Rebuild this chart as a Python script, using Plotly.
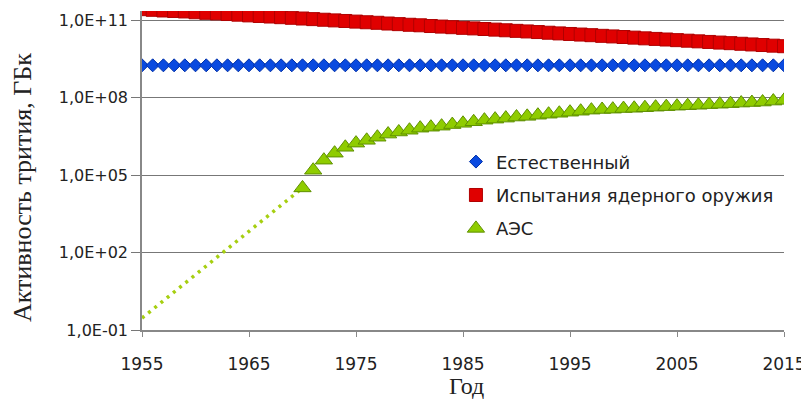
import plotly.graph_objects as go

years = list(range(1955, 2016))
aes_years = list(range(1970, 2016))
trend_years = [1955, 1970]

natural = [1.8e9] * len(years)

weapons = [2.7e11, 2.55e11, 2.4e11, 2.3e11, 2.2e11, 2.05e11, 1.95e11, 1.85e11, 1.75e11, 1.65e11,
           1.55e11, 1.47e11, 1.4e11, 1.32e11, 1.25e11, 1.17e11, 1.11e11, 1.05e11, 9.9e10, 9.4e10,
           8.9e10, 8.4e10, 8.0e10, 7.5e10, 7.1e10, 6.7e10, 6.4e10, 6.0e10, 5.7e10, 5.4e10,
           5.1e10, 4.85e10, 4.6e10, 4.35e10, 4.1e10, 3.9e10, 3.7e10, 3.5e10, 3.3e10, 3.1e10,
           2.95e10, 2.8e10, 2.65e10, 2.5e10, 2.37e10, 2.25e10, 2.13e10, 2.0e10, 1.9e10, 1.8e10,
           1.7e10, 1.62e10, 1.53e10, 1.45e10, 1.37e10, 1.3e10, 1.23e10, 1.16e10, 1.1e10, 1.04e10,
           9.9e9]

aes = [3.2e4, 1.55e5, 3.8e5, 7.1e5, 1.2e6, 1.74e6, 2.24e6, 2.95e6, 3.9e6, 4.7e6,
       5.5e6, 6.6e6, 7.2e6, 7.9e6, 9.1e6, 1.02e7, 1.17e7, 1.35e7, 1.48e7, 1.62e7,
       1.78e7, 1.9e7, 2.1e7, 2.3e7, 2.5e7, 2.75e7, 3.0e7, 3.3e7, 3.5e7, 3.6e7,
       3.8e7, 3.9e7, 4.1e7, 4.3e7, 4.5e7, 4.7e7, 4.9e7, 5.1e7, 5.4e7, 5.6e7,
       5.9e7, 6.2e7, 6.5e7, 6.8e7, 7.4e7, 7.9e7]

aes_trend = [0.29, 3.2e4]

y_tickvals = [1e-1, 1e2, 1e5, 1e8, 1e11]
y_ticktext = ["1,0E-01", "1,0E+02", "1,0E+05", "1,0E+08", "1,0E+11"]
x_tickvals = [1955, 1965, 1975, 1985, 1995, 2005, 2015]

names = ["Естественный", "Испытания ядерного оружия", "АЭС"]
y_title = "Активность трития, ГБк"
x_title = "Год"

fig = go.Figure()

fig.add_trace(go.Scatter(
    x=years, y=natural, mode="markers", name=names[0], legendgroup="a",
    marker=dict(symbol="diamond", size=10, color="#0a4ae0",
                line=dict(color="#0030a8", width=1))))

fig.add_trace(go.Scatter(
    x=years, y=weapons, mode="markers", name=names[1], legendgroup="b",
    marker=dict(symbol="square", size=13, color="#e00000",
                line=dict(color="#b00000", width=1))))

fig.add_trace(go.Scatter(
    x=trend_years, y=aes_trend, mode="lines", showlegend=False, legendgroup="c",
    line=dict(color="#a6cf10", width=3.5, dash="3px,5px"), hoverinfo="skip"))

fig.add_trace(go.Scatter(
    x=aes_years, y=aes, mode="markers", name=names[2], legendgroup="c",
    marker=dict(symbol="triangle-up", size=15, color="#8fcc00",
                line=dict(color="#5f9000", width=1))))

# the page adds an 8px body margin, so the figure is 801x391
fig.add_annotation(
    text=y_title, textangle=-90, showarrow=False,
    xref="paper", yref="paper", x=-0.186, y=0.447,
    xanchor="center", yanchor="middle",
    font=dict(family="Liberation Serif", size=26, color="#222"))

fig.add_annotation(
    text=x_title, showarrow=False,
    xref="paper", yref="paper", x=0.505, y=-0.1755,
    xanchor="center", yanchor="middle",
    font=dict(family="Liberation Serif", size=24, color="#222"))

fig.update_layout(
    width=801, height=391, autosize=False,
    margin=dict(l=134, r=23, t=3, b=69),
    paper_bgcolor="white", plot_bgcolor="white",
    font=dict(family="DejaVu Sans", size=16, color="#222"),
    legend=dict(
        x=0.489, y=0.585, xanchor="left", yanchor="top",
        bgcolor="rgba(0,0,0,0)", traceorder="grouped", tracegroupgap=7,
        font=dict(family="DejaVu Sans", size=18, color="#222"),
    ),
    xaxis=dict(
        range=[1955, 2015], tickvals=x_tickvals, showgrid=False,
        showline=True, linecolor="#888", linewidth=1.5,
        ticks="outside", ticklen=5, tickcolor="#888", ticklabelstandoff=13,
        tickfont=dict(family="DejaVu Sans", size=17, color="#222"),
        zeroline=False,
    ),
    yaxis=dict(
        type="log", range=[-1, 11.36], tickvals=y_tickvals, ticktext=y_ticktext,
        showgrid=True, gridcolor="#777", gridwidth=1,
        showline=True, linecolor="#888", linewidth=1.5,
        ticks="outside", ticklen=9, tickcolor="#777",
        tickfont=dict(family="DejaVu Sans", size=16, color="#222"),
        zeroline=False,
    ),
)

fig.write_html("out.html", config={"displayModeBar": False})
